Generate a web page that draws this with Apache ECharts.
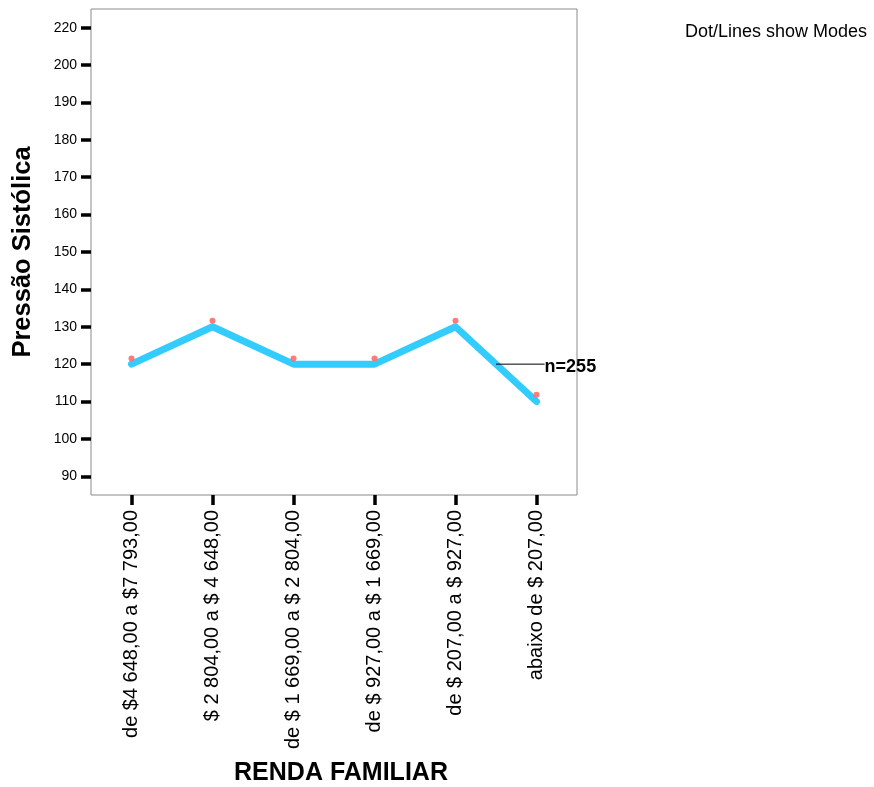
<!DOCTYPE html>
<html>
<head>
<meta charset="utf-8">
<script src="https://cdn.jsdelivr.net/npm/echarts@6/dist/echarts.min.js"></script>
<style>html,body{margin:0;padding:0;background:#fff}#c{width:874px;height:787px}</style>
</head>
<body>
<div id="c"></div>
<script>
const categories = [
  'de $4 648,00 a $7 793,00',
  '$ 2 804,00 a $ 4 648,00',
  'de $ 1 669,00 a $ 2 804,00',
  'de $ 927,00 a $ 1 669,00',
  'de $ 207,00 a $ 927,00',
  'abaixo de $ 207,00'
];
const modeLine = [120, 130, 120, 120, 130, 110];
const modeDots = [121.5, 131.6, 121.5, 121.5, 131.6, 111.8];
const yTickValues = [90, 100, 110, 120, 130, 140, 150, 160, 170, 180, 190, 200, 210];
const yTickLabels = ['90', '100', '110', '120', '130', '140', '150', '160', '170', '180', '190', '200', '220'];
const nLabel = 'n=255';
const nLeader = [[4.5, 120], [5.1, 120]];

const FONT = 'Liberation Sans, Arial, sans-serif';
const chart = echarts.init(document.getElementById('c'));
chart.setOption({
  animation: false,
  backgroundColor: '#fff',
  title: {
    text: 'Dot/Lines show Modes',
    left: 680, top: 18,
    textStyle: { fontFamily: FONT, fontSize: 18, fontWeight: 'normal', color: '#000' }
  },
  grid: {
    left: 91, top: 9, right: 297, bottom: 292,
    outerBoundsMode: 'none',
    containLabel: false,
    show: true, borderColor: '#8a8a8a', borderWidth: 1, backgroundColor: '#fff'
  },
  xAxis: [{
    type: 'category',
    data: categories,
    boundaryGap: true,
    name: 'RENDA FAMILIAR',
    nameLocation: 'middle',
    nameGap: 266,
    nameTextStyle: { fontFamily: FONT, fontSize: 25, fontWeight: 'bold', color: '#000', padding: [0, 0, 0, 14] },
    axisLine: { show: false, onZero: false },
    axisTick: { show: true, alignWithLabel: true, length: 10, lineStyle: { color: '#000', width: 3.5 } },
    axisLabel: { rotate: 90, margin: 15, fontFamily: FONT, fontSize: 20, color: '#000', interval: 0 },
    splitLine: { show: false }
  }, {
    type: 'value',
    min: -0.5, max: 5.5,
    show: false,
    position: 'bottom',
    axisLine: { onZero: false }
  }],
  yAxis: {
    type: 'value',
    min: 85, max: 215,
    name: 'Pressão Sistólica',
    nameLocation: 'middle',
    nameGap: 55,
    nameTextStyle: { fontFamily: FONT, fontSize: 25.5, fontWeight: 'bold', color: '#000' },
    axisLine: { show: false, onZero: false },
    axisTick: { show: true, customValues: yTickValues, length: 10, lineStyle: { color: '#000', width: 3.5 } },
    axisLabel: {
      customValues: yTickValues, margin: 14, fontFamily: FONT, fontSize: 14, color: '#000',
      formatter: function (v) { const i = yTickValues.indexOf(v); return i >= 0 ? yTickLabels[i] : ''; }
    },
    splitLine: { show: false }
  },
  series: [
    {
      type: 'line',
      data: modeLine,
      symbol: 'none',
      lineStyle: { color: '#33ccff', width: 7, cap: 'round', join: 'round' },
      z: 3
    },
    {
      type: 'line',
      xAxisIndex: 1,
      data: nLeader,
      symbol: 'none',
      lineStyle: { color: '#000', width: 1 },
      z: 5,
      endLabel: {
        show: true, formatter: nLabel, distance: 0,
        fontFamily: FONT, fontSize: 18, fontWeight: 'bold', color: '#000', offset: [0, 3]
      }
    },
    {
      type: 'scatter',
      data: modeDots,
      symbol: 'circle',
      symbolSize: 6,
      itemStyle: { color: '#ff6b6b', opacity: 0.9 },
      z: 4
    }
  ]
});
</script>
</body>
</html>
